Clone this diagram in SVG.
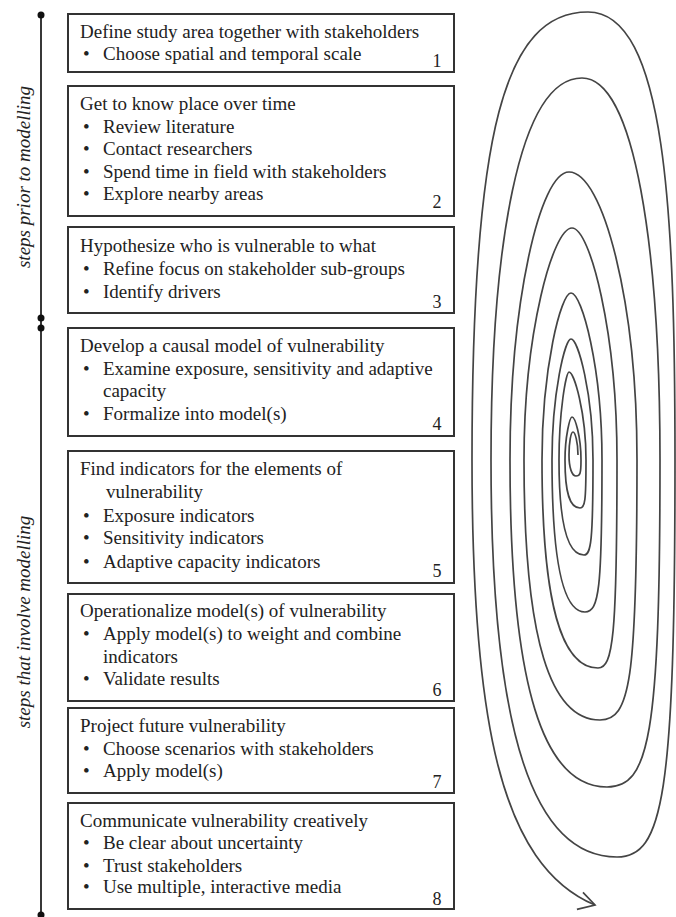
<svg xmlns="http://www.w3.org/2000/svg" width="676" height="917" viewBox="0 0 676 917">
<style>
  .box { fill: #ffffff; stroke: #333333; stroke-width: 2; }
  .t { font-family: "Liberation Serif", "Times New Roman", serif; font-size: 19px; fill: #222222; }
  .n { font-family: "Liberation Serif", "Times New Roman", serif; font-size: 18px; fill: #222222; text-anchor: middle; }
  .side { font-family: "Liberation Serif", "Times New Roman", serif; font-size: 19px; font-style: italic; fill: #222222; text-anchor: middle; }
  .axis { stroke: #222222; stroke-width: 1.8; fill: none; }
  .dot { fill: #111111; }
  .spiral { fill: none; stroke: #444444; stroke-width: 1.7; }
</style>
<defs>
  <marker id="arrow" viewBox="-20 -15 25 30" refX="0" refY="0" markerWidth="25" markerHeight="30" orient="auto" markerUnits="userSpaceOnUse">
    <path d="M-16,-7 L0,0 L-15,11" fill="none" stroke="#444444" stroke-width="1.7"/>
  </marker>
</defs>
<rect width="676" height="917" fill="#ffffff"/>

<g id="axis">
  <line class="axis" x1="41" y1="15" x2="41" y2="915"/>
  <circle class="dot" cx="41" cy="15" r="3.5"/>
  <circle class="dot" cx="41" cy="318" r="3.5"/>
  <circle class="dot" cx="41" cy="328" r="3.5"/>
  <circle class="dot" cx="41" cy="915" r="3.5"/>
  <text class="side" transform="translate(30,177) rotate(-90)">steps prior to modelling</text>
  <text class="side" transform="translate(30,622) rotate(-90)">steps that involve modelling</text>
</g>

<g id="step1">
  <rect class="box" x="68" y="14" width="386" height="58"/>
  <text class="t" x="80" y="38">Define study area together with stakeholders</text>
  <text class="t" x="83" y="60">•</text><text class="t" x="103" y="60">Choose spatial and temporal scale</text>
  <text class="n" x="437" y="67">1</text>
</g>

<g id="step2">
  <rect class="box" x="68" y="86" width="386" height="130"/>
  <text class="t" x="80" y="110">Get to know place over time</text>
  <text class="t" x="83" y="133">•</text><text class="t" x="103" y="133">Review literature</text>
  <text class="t" x="83" y="155">•</text><text class="t" x="103" y="155">Contact researchers</text>
  <text class="t" x="83" y="178">•</text><text class="t" x="103" y="178">Spend time in field with stakeholders</text>
  <text class="t" x="83" y="200">•</text><text class="t" x="103" y="200">Explore nearby areas</text>
  <text class="n" x="437" y="208">2</text>
</g>

<g id="step3">
  <rect class="box" x="68" y="227" width="386" height="86"/>
  <text class="t" x="80" y="252">Hypothesize who is vulnerable to what</text>
  <text class="t" x="83" y="275">•</text><text class="t" x="103" y="275">Refine focus on stakeholder sub-groups</text>
  <text class="t" x="83" y="298">•</text><text class="t" x="103" y="298">Identify drivers</text>
  <text class="n" x="437" y="308">3</text>
</g>

<g id="step4">
  <rect class="box" x="68" y="328" width="386" height="108"/>
  <text class="t" x="80" y="352">Develop a causal model of vulnerability</text>
  <text class="t" x="83" y="375">•</text><text class="t" x="103" y="375">Examine exposure, sensitivity and adaptive</text>
  <text class="t" x="103" y="397">capacity</text>
  <text class="t" x="83" y="420">•</text><text class="t" x="103" y="420">Formalize into model(s)</text>
  <text class="n" x="437" y="430">4</text>
</g>

<g id="step5">
  <rect class="box" x="68" y="451" width="386" height="132"/>
  <text class="t" x="80" y="475">Find indicators for the elements of</text>
  <text class="t" x="106" y="498">vulnerability</text>
  <text class="t" x="83" y="522">•</text><text class="t" x="103" y="522">Exposure indicators</text>
  <text class="t" x="83" y="544">•</text><text class="t" x="103" y="544">Sensitivity indicators</text>
  <text class="t" x="83" y="568">•</text><text class="t" x="103" y="568">Adaptive capacity indicators</text>
  <text class="n" x="437" y="577">5</text>
</g>

<g id="step6">
  <rect class="box" x="68" y="594" width="386" height="107"/>
  <text class="t" x="80" y="617">Operationalize model(s) of vulnerability</text>
  <text class="t" x="83" y="640">•</text><text class="t" x="103" y="640">Apply model(s) to weight and combine</text>
  <text class="t" x="103" y="663">indicators</text>
  <text class="t" x="83" y="685">•</text><text class="t" x="103" y="685">Validate results</text>
  <text class="n" x="437" y="696">6</text>
</g>

<g id="step7">
  <rect class="box" x="68" y="708" width="386" height="85"/>
  <text class="t" x="80" y="732">Project future vulnerability</text>
  <text class="t" x="83" y="755">•</text><text class="t" x="103" y="755">Choose scenarios with stakeholders</text>
  <text class="t" x="83" y="777">•</text><text class="t" x="103" y="777">Apply model(s)</text>
  <text class="n" x="437" y="788">7</text>
</g>

<g id="step8">
  <rect class="box" x="68" y="803" width="386" height="106"/>
  <text class="t" x="80" y="827">Communicate vulnerability creatively</text>
  <text class="t" x="83" y="849">•</text><text class="t" x="103" y="849">Be clear about uncertainty</text>
  <text class="t" x="83" y="872">•</text><text class="t" x="103" y="872">Trust stakeholders</text>
  <text class="t" x="83" y="893">•</text><text class="t" x="103" y="893">Use multiple, interactive media</text>
  <text class="n" x="437" y="905">8</text>
</g>

<g id="connectors">
  <path id="spiral" class="spiral" marker-end="url(#arrow)" d="M578,455
    C578,442 575,432 573,432 C571,432 569,442 569,455 C569,468 572,476 576,476
    C580,476 581,474 581,460 C581,436 575,417 572,417 C570,417 565,436 565,460 C565,494 570,508 580,508
    C585,508 586,501 586,460 C586,412 574,372 569,372 C566,372 559,412 559,460 C559,527 568,555 584,555
    C591,555 593,541 593,460 C593,393 578,339 571,339 C565,339 552,393 552,460 C552,566 564,612 585,612
    C599,612 602,589 602,460 C602,368 582,293 571,293 C561,293 542,368 542,460 C542,606 562,668 598,668
    C613,668 617,637 617,460 C617,332 590,228 572,228 C553,228 524,332 524,460 C524,642 551,720 600,720
    C630,720 637,681 637,460 C637,302 603,172 569,172 C540,172 510,302 510,460 C510,689 544,787 607,787
    C649,787 660,738 660,460 C660,250 635,78 582,78 C518,78 491,250 491,460 C491,738 535,857 617,857
    C663,857 675,798 675,460 C675,214 666,12 588,12 C505,12 472,130 472,460
    C472,720 500,865 595,905"/>
</g>
</svg>
